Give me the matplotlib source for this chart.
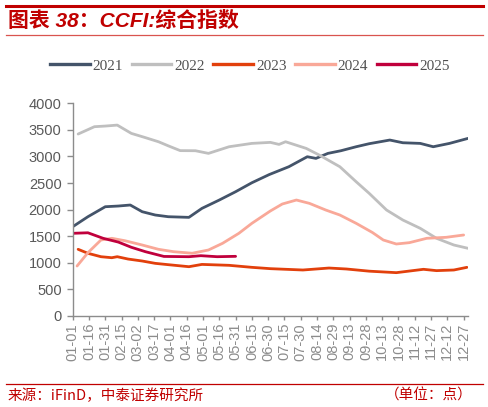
import matplotlib
matplotlib.use("Agg")
import matplotlib.pyplot as plt
from matplotlib.lines import Line2D

plt.rcParams['font.family'] = ['Liberation Sans', 'Noto Sans CJK SC', 'DejaVu Sans']

# day of year (0 = 01-01) and CCFI composite index readings
days_2021 = [0, 14, 30, 42, 53, 64, 76, 88, 107, 119, 135, 150, 165, 181, 199, 216,
             224, 235, 247, 261, 273, 292, 304, 320, 332, 347, 364]
ccfi_2021 = [1679, 1867, 2055, 2068, 2087, 1961, 1899, 1867, 1855, 2024, 2181, 2337,
             2506, 2660, 2807, 2995, 2964, 3058, 3108, 3183, 3240, 3309, 3258, 3246,
             3183, 3246, 3340]

days_2022 = [5, 20, 30, 41, 54, 66, 79, 88, 99, 113, 125, 144, 165, 182, 190, 196,
             215, 227, 246, 261, 273, 289, 304, 320, 335, 351, 364]
ccfi_2022 = [3422, 3560, 3572, 3590, 3434, 3360, 3277, 3200, 3110, 3108, 3058, 3183,
             3246, 3265, 3227, 3277, 3152, 3027, 2807, 2525, 2307, 1993, 1805, 1649,
             1461, 1335, 1273]

days_2023 = [5, 14, 26, 36, 41, 51, 64, 76, 88, 107, 119, 144, 165, 182, 212, 236,
             252, 273, 298, 323, 335, 351, 363]
ccfi_2023 = [1254, 1179, 1115, 1096, 1115, 1071, 1034, 990, 965, 927, 970, 953, 915,
             890, 865, 902, 884, 843, 815, 878, 853, 865, 915]

days_2024 = [4, 14, 26, 36, 48, 64, 79, 93, 110, 125, 138, 153, 165, 182, 193, 206,
             218, 233, 246, 261, 276, 286, 298, 310, 326, 344, 360]
ccfi_2024 = [940, 1190, 1429, 1461, 1416, 1335, 1254, 1209, 1180, 1241, 1367, 1555,
             1743, 1975, 2106, 2181, 2118, 1993, 1899, 1743, 1570, 1429, 1354, 1379,
             1461, 1480, 1523]

days_2025 = [0, 14, 28, 42, 54, 67, 84, 107, 118, 133, 150]
ccfi_2025 = [1555, 1565, 1461, 1390, 1292, 1209, 1120, 1115, 1134, 1115, 1122]

series = [
    ('2021', days_2021, ccfi_2021, '#44546A'),
    ('2022', days_2022, ccfi_2022, '#BFBFBF'),
    ('2023', days_2023, ccfi_2023, '#E2400C'),
    ('2024', days_2024, ccfi_2024, '#F9A898'),
    ('2025', days_2025, ccfi_2025, '#C0003C'),
]

tick_days = list(range(0, 361, 15))
tick_labels = ['01-01', '01-16', '01-31', '02-15', '03-02', '03-17', '04-01', '04-16',
               '05-01', '05-16', '05-31', '06-15', '06-30', '07-15', '07-30', '08-14',
               '08-29', '09-13', '09-28', '10-13', '10-28', '11-12', '11-27', '12-12',
               '12-27']

fig = plt.figure(figsize=(4.88, 4.07), dpi=100)
ax = fig.add_axes([0.149, 0.2236, 0.81, 0.5226])

for name, d, v, c in series:
    ax.plot(d, v, color=c, lw=2.0, label=name, solid_capstyle='round')

ax.set_xlim(0, 364)
ax.set_ylim(0, 4000)
ax.set_yticks(range(0, 4001, 500))
ax.set_xticks(tick_days)
ax.set_xticklabels(tick_labels, rotation=90)
for s in ['top', 'right']:
    ax.spines[s].set_visible(False)
for s in ['left', 'bottom']:
    ax.spines[s].set_color('#8C8C8C')
    ax.spines[s].set_linewidth(1.0)
ax.tick_params(axis='y', colors='#8C8C8C', labelcolor='#595959', labelsize=10.5,
               length=4, width=1.0, pad=4)
ax.tick_params(axis='x', colors='#8C8C8C', labelcolor='#8C8C8C', labelsize=10.5,
               length=3, width=1.0, pad=2)

handles = [Line2D([], [], color=c, lw=2.4) for _, _, _, c in series]
fig.legend(handles, [s[0] for s in series], loc='center', bbox_to_anchor=(0.512, 0.838),
           ncol=5, frameon=False, handlelength=2.6, handletextpad=0.2,
           columnspacing=0.55, prop={'family': 'Liberation Serif', 'size': 11},
           labelcolor='#505050')

red = '#C00000'
fig.add_artist(Line2D([0.012, 0.99], [0.985, 0.985], color=red, lw=2.2))
fig.add_artist(Line2D([0.012, 0.99], [0.914, 0.914], color='#D9534F', lw=0.9))
fig.text(0.016, 0.948, '图表 38：CCFI:综合指数', color=red, fontsize=15,
         fontweight='bold', style='italic', va='center', ha='left',
         family=['Liberation Sans', 'Noto Sans CJK SC'])

fig.add_artist(Line2D([0.012, 0.99], [0.057, 0.057], color=red, lw=0.9))
fig.text(0.016, 0.028, '来源：iFinD，中泰证券研究所', color=red, fontsize=10.5,
         va='center', ha='left', family=['Noto Sans CJK SC', 'DejaVu Sans'])
fig.text(0.968, 0.028, '（单位：点）', color=red, fontsize=10.5,
         va='center', ha='right', family=['Noto Sans CJK SC', 'DejaVu Sans'])

fig.savefig('out.png', dpi=100)
